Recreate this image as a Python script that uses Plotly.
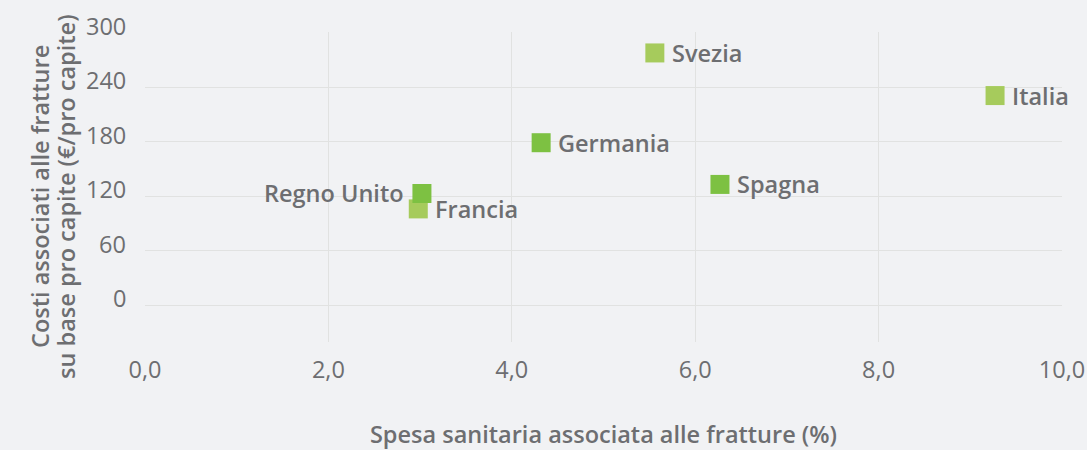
import plotly.graph_objects as go

paesi = ["Svezia", "Italia", "Germania", "Spagna", "Regno Unito", "Francia"]
spesa_pct = [5.56, 9.27, 4.32, 6.27, 3.02, 2.98]
costi_pro_capite = [278, 231, 179, 133, 123, 106]
gruppo = ["chiaro", "chiaro", "scuro", "scuro", "scuro", "chiaro"]
lato_etichetta = ["right", "right", "right", "right", "left", "right"]

x_ticks = [0, 2, 4, 6, 8, 10]
x_tick_labels = ["0,0", "2,0", "4,0", "6,0", "8,0", "10,0"]
y_ticks = [0, 60, 120, 180, 240, 300]
titolo_x = "Spesa sanitaria associata alle fratture (%)"
titolo_y = ["Costi associati alle fratture", "su base pro capite (€/pro capite)"]

colori = {"scuro": "#7dc142", "chiaro": "#a6cb5c"}
testo = "#6d6e71"
font_family = "Open Sans, sans-serif"
fs = 23.5

fig = go.Figure()
for g in ["chiaro", "scuro"]:
    idx = [i for i, v in enumerate(gruppo) if v == g]
    fig.add_trace(go.Scatter(
        x=[spesa_pct[i] for i in idx],
        y=[costi_pro_capite[i] for i in idx],
        mode="markers",
        marker=dict(symbol="square", size=19, color=colori[g]),
        showlegend=False,
        cliponaxis=False,
        hovertext=[paesi[i] for i in idx],
    ))

# country labels
for nome, xv, yv, lato in zip(paesi, spesa_pct, costi_pro_capite, lato_etichetta):
    fig.add_annotation(
        x=xv, y=yv, text=nome, showarrow=False,
        xanchor="left" if lato == "right" else "right",
        xshift=15 if lato == "right" else -16,
        yanchor="middle",
        font=dict(family=font_family, size=fs, color=testo, weight=600),
    )

# y tick labels (sitting just above their gridlines)
for v in y_ticks:
    fig.add_annotation(
        xref="paper", x=0, y=v, yref="y", text=str(v), showarrow=False,
        xanchor="right", xshift=-17, yanchor="middle", yshift=7,
        font=dict(family=font_family, size=fs, color=testo),
    )

# y axis title, two lines
for riga, shift in zip(titolo_y, [-105, -79]):
    fig.add_annotation(
        xref="paper", yref="paper", x=0, y=0.468, text=riga, showarrow=False,
        textangle=-90, xanchor="center", yanchor="middle", xshift=shift,
        font=dict(family=font_family, size=fs, color=testo, weight=600),
    )

fig.update_layout(
    width=1087, height=450,
    margin=dict(l=145, r=25, t=32, b=108),
    paper_bgcolor="#f1f2f4", plot_bgcolor="#f1f2f4",
    font=dict(family=font_family, color=testo, size=fs),
    xaxis=dict(
        range=[0, 10], tickvals=x_ticks, ticktext=x_tick_labels,
        showgrid=True, gridcolor="#e1e2e1", gridwidth=1,
        zeroline=False, showline=False, ticks="",
        ticklabelstandoff=11, automargin=False,
        tickfont=dict(size=fs, color=testo),
        title=dict(text=titolo_x,
                   font=dict(size=fs, color=testo, weight=600), standoff=49),
    ),
    yaxis=dict(
        range=[-40.8, 301.1], tickvals=y_ticks, showticklabels=False,
        showgrid=True, gridcolor="#e1e2e1", gridwidth=1,
        zeroline=False, showline=False, ticks="", automargin=False,
    ),
)

fig.write_html("out.html", config={"displayModeBar": False},
               post_script="document.body.style.margin='0';")
